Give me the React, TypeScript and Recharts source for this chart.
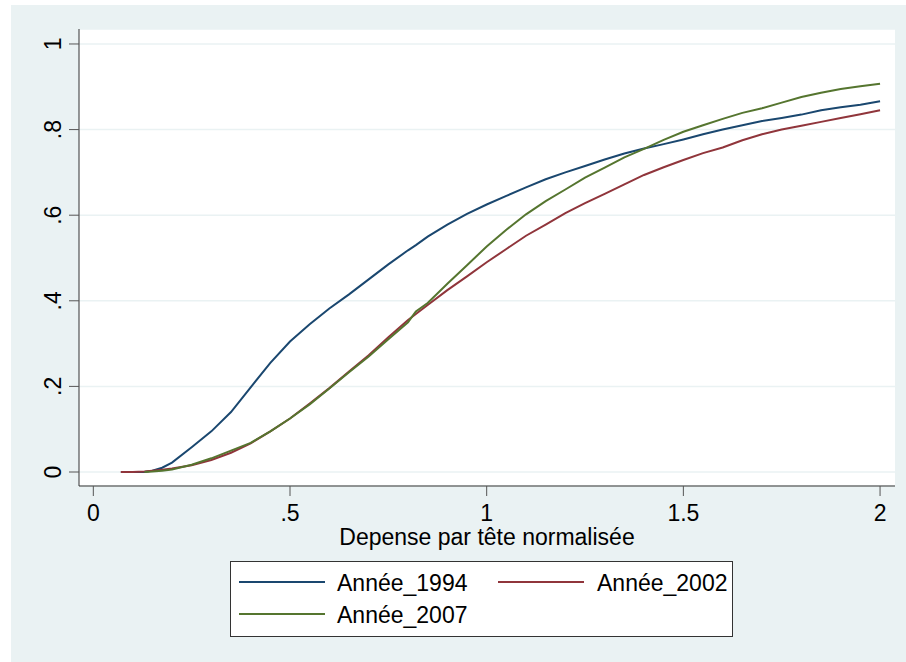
import { LineChart, Line, XAxis, YAxis, CartesianGrid, Legend, Label } from 'recharts'

const FONT = '"Liberation Sans", Arial, Helvetica, sans-serif'

// x: dépense par tête normalisée ; y: fonction de répartition
const xValues = [
  0.07, 0.1, 0.13, 0.15, 0.175, 0.2, 0.25, 0.3, 0.35, 0.4, 0.45, 0.5, 0.55, 0.6, 0.65,
  0.7, 0.75, 0.8, 0.82, 0.85, 0.9, 0.95, 1.0, 1.05, 1.1, 1.15, 1.2, 1.25, 1.3, 1.35,
  1.4, 1.45, 1.5, 1.55, 1.6, 1.65, 1.7, 1.75, 1.8, 1.85, 1.9, 1.95, 2.0,
]

const annee1994 = [
  0, 0, 0, 0.003, 0.01, 0.022, 0.058, 0.095, 0.14, 0.198, 0.255, 0.305, 0.345, 0.382, 0.415,
  0.45, 0.485, 0.518, 0.53, 0.55, 0.578, 0.603, 0.625, 0.645, 0.665, 0.684, 0.7, 0.715, 0.73, 0.744,
  0.756, 0.766, 0.777, 0.789, 0.8, 0.81, 0.82, 0.827, 0.835, 0.845, 0.852, 0.858, 0.866,
]

const annee2002 = [
  0, 0, 0.001, 0.003, 0.005, 0.008, 0.016, 0.028, 0.045, 0.067, 0.095, 0.125, 0.16, 0.196, 0.235,
  0.273, 0.315, 0.355, 0.369, 0.39, 0.425, 0.457, 0.49, 0.521, 0.552, 0.578, 0.605, 0.628, 0.65, 0.672,
  0.694, 0.712, 0.729, 0.745, 0.758, 0.775, 0.789, 0.8, 0.809, 0.818, 0.827, 0.836, 0.845,
]

const annee2007 = [
  null, null, 0, 0.001, 0.003, 0.006, 0.017, 0.032, 0.05, 0.068, 0.095, 0.125, 0.158, 0.195, 0.233,
  0.27, 0.31, 0.35, 0.375, 0.395, 0.44, 0.483, 0.527, 0.566, 0.602, 0.633, 0.66, 0.688, 0.711, 0.735,
  0.755, 0.776, 0.795, 0.81, 0.825, 0.839, 0.85, 0.863, 0.876, 0.886, 0.895, 0.901, 0.907,
]

const xTicks = [0, 0.5, 1, 1.5, 2]
const xTickLabels = ['0', '.5', '1', '1.5', '2']
const yTicks = [0, 0.2, 0.4, 0.6, 0.8, 1]
const yTickLabels = ['0', '.2', '.4', '.6', '.8', '1']

const SERIES = [
  { key: 'a1994', name: 'Année_1994', color: '#1a476f' },
  { key: 'a2002', name: 'Année_2002', color: '#90353b' },
  { key: 'a2007', name: 'Année_2007', color: '#55752f' },
]

const chartData = xValues.map((x, i) => ({
  x,
  a1994: annee1994[i],
  a2002: annee2002[i],
  a2007: annee2007[i],
}))

function XTick({ x, y, payload }: any) {
  const i = xTicks.indexOf(payload.value)
  return (
    <text x={x} y={y + 25} textAnchor="middle" fontSize={23} fontFamily={FONT} fill="#000">
      {xTickLabels[i]}
    </text>
  )
}

function YTick({ x, y, payload }: any) {
  const i = yTicks.indexOf(payload.value)
  return (
    <text
      transform={`translate(${x - 8},${y}) rotate(-90)`}
      textAnchor="middle"
      fontSize={23}
      fontFamily={FONT}
      fill="#000"
    >
      {yTickLabels[i]}
    </text>
  )
}

// legend slots: line x, row, text x (relative to the box)
const LEGEND_SLOTS = [
  { lx: 9, row: 0, tx: 107 },
  { lx: 268, row: 0, tx: 367 },
  { lx: 9, row: 1, tx: 107 },
]

function LegendBox({ payload }: any) {
  const items = payload && payload.length ? payload : SERIES.map((s) => ({ value: s.name, color: s.color }))
  return (
    <svg width={503} height={76} style={{ display: 'block' }}>
      <rect x={0.5} y={0.5} width={502} height={75} fill="#fff" stroke="#333" strokeWidth={1} />
      {items.map((it: any, i: number) => {
        const s = LEGEND_SLOTS[i]
        const ly = 21 + s.row * 32
        return (
          <g key={i}>
            <line x1={s.lx} x2={s.lx + 86} y1={ly} y2={ly} stroke={it.color} strokeWidth={2} />
            <text x={s.tx} y={ly + 9} fontSize={23} fontFamily={FONT} fill="#000">
              {it.value}
            </text>
          </g>
        )
      })}
    </svg>
  )
}

export default function App() {
  return (
    <div style={{ position: 'absolute', left: 0, top: 0, width: 906, height: 662, background: '#fff' }}>
      <div style={{ position: 'absolute', left: 11, top: 5, right: 0, bottom: 0, background: '#eaf2f3' }} />
      <div style={{ position: 'absolute', left: 0, top: 0 }}>
        <LineChart
          width={906}
          height={662}
          data={chartData}
          margin={{ top: 29, right: 11, left: 11, bottom: 0 }}
        >
          <CartesianGrid vertical={false} stroke="#eaf2f3" strokeWidth={1.5} fill="#fff" fillOpacity={1} />
          <XAxis
            dataKey="x"
            type="number"
            domain={[-0.0364, 2.038]}
            ticks={xTicks}
            allowDataOverflow
            height={176}
            tickSize={10}
            tickMargin={0}
            axisLine={{ stroke: '#333', strokeWidth: 1 }}
            tickLine={{ stroke: '#555', strokeWidth: 1 }}
            tick={<XTick />}
            interval={0}
          >
            <Label
              content={(props: any) => (
                <text
                  x={props.viewBox.x + props.viewBox.width / 2}
                  y={545}
                  textAnchor="middle"
                  fontSize={23}
                  fontFamily={FONT}
                  fill="#000"
                >
                  Depense par tête normalisée
                </text>
              )}
            />
          </XAxis>
          <YAxis
            type="number"
            domain={[-0.0327, 1.035]}
            ticks={yTicks}
            allowDataOverflow
            width={68}
            tickSize={10}
            tickMargin={0}
            axisLine={{ stroke: '#333', strokeWidth: 1 }}
            tickLine={{ stroke: '#555', strokeWidth: 1 }}
            tick={<YTick />}
            interval={0}
          />
          <Legend
            layout="horizontal"
            verticalAlign="middle"
            align="center"
            wrapperStyle={{ left: 230, top: 561, width: 503, height: 76 }}
            content={<LegendBox />}
          />
          {SERIES.map((s) => (
            <Line
              key={s.key}
              type="linear"
              dataKey={s.key}
              name={s.name}
              stroke={s.color}
              strokeWidth={2}
              dot={false}
              activeDot={false}
              isAnimationActive={false}
            />
          ))}
        </LineChart>
      </div>
    </div>
  )
}
